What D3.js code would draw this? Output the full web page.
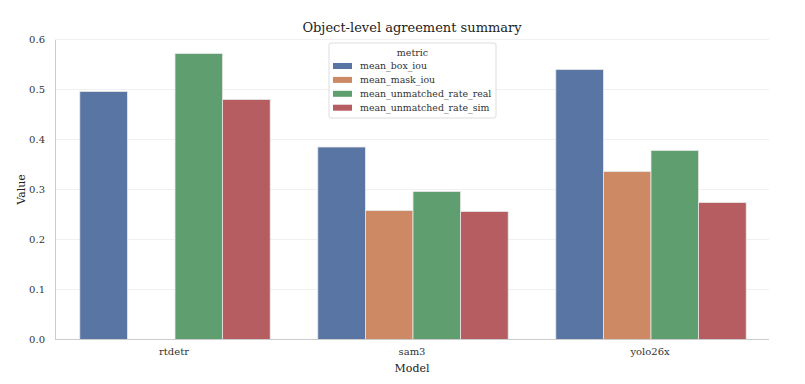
<!DOCTYPE html>
<html>
<head>
<meta charset="utf-8">
<script src="https://cdn.jsdelivr.net/npm/d3@7"></script>
<style>
  body { margin: 0; background: #fff; }
  text { font-family: "DejaVu Serif", serif; fill: #333; }
</style>
</head>
<body>
<div id="chart"></div>
<script>
// data
const models = ["rtdetr", "sam3", "yolo26x"];
const metrics = ["mean_box_iou", "mean_mask_iou", "mean_unmatched_rate_real", "mean_unmatched_rate_sim"];
const boxIou = [0.496, 0.385, 0.540];
const maskIou = [null, 0.258, 0.336];
const unmatchedReal = [0.572, 0.296, 0.378];
const unmatchedSim = [0.480, 0.256, 0.274];
const yTicks = [0, 0.1, 0.2, 0.3, 0.4, 0.5, 0.6];
const colors = ["#5975a4", "#cc8963", "#5f9e6e", "#b55d60"];

const series = [boxIou, maskIou, unmatchedReal, unmatchedSim];
let rows = [];
models.forEach((m, i) => {
    metrics.forEach((k, j) => {
        if (series[j][i] != null) rows.push({ model: m, metric: k, value: series[j][i] });
    });
});

const W = 805, H = 384;
const margin = { top: 39.5, right: 36, bottom: 44.5, left: 55 };
const width = W - margin.left - margin.right;
const height = H - margin.top - margin.bottom;

let svg = d3.select("#chart").append("svg")
    .attr("width", W).attr("height", H);

let g = svg.append("g")
    .attr("transform", "translate(" + margin.left + "," + margin.top + ")");

let x0 = d3.scaleBand().domain(models).range([0, width]).paddingInner(0.2).paddingOuter(0.1);
let x1 = d3.scaleBand().domain(metrics).range([0, x0.bandwidth()]);
let y = d3.scaleLinear().domain([0, 0.6]).range([height, 0]);
let color = d3.scaleOrdinal().domain(metrics).range(colors);

// grid
g.append("g").selectAll("line").data(yTicks).enter().append("line")
    .attr("x1", 0).attr("x2", width)
    .attr("y1", d => y(d)).attr("y2", d => y(d))
    .attr("stroke", "#f0f0f0").attr("stroke-width", 1);

// bars
g.append("g").selectAll("rect").data(rows).enter().append("rect")
    .attr("x", d => x0(d.model) + x1(d.metric) + 1)
    .attr("y", d => y(d.value))
    .attr("width", x1.bandwidth())
    .attr("height", d => y(0) - y(d.value))
    .attr("fill", d => color(d.metric))
    .attr("stroke", "#e8e8e8").attr("stroke-width", 0.8);

// axes
let yAxis = g.append("g")
    .call(d3.axisLeft(y).tickValues(yTicks).tickFormat(d3.format(".1f")).tickSize(0).tickPadding(10));
yAxis.select(".domain").attr("stroke", "#cccccc");
yAxis.selectAll("text").style("font-size", "10px").style("fill", "#333");

let xAxis = g.append("g")
    .attr("transform", "translate(0," + height + ")")
    .call(d3.axisBottom(x0).tickSize(0).tickPadding(8));
xAxis.select(".domain").attr("stroke", "#cccccc").attr("d", "M0,0H" + width);
xAxis.selectAll("text").style("font-size", "10px").style("fill", "#333");

// labels
svg.append("text")
    .attr("x", margin.left + width / 2).attr("y", 32)
    .attr("text-anchor", "middle")
    .style("font-size", "13px").style("fill", "#222")
    .text("Object-level agreement summary");

svg.append("text")
    .attr("x", margin.left + width / 2).attr("y", 372)
    .attr("text-anchor", "middle")
    .style("font-size", "11px").style("fill", "#222")
    .text("Model");

svg.append("text")
    .attr("transform", "translate(25," + (margin.top + height / 2) + ") rotate(-90)")
    .attr("text-anchor", "middle")
    .style("font-size", "11px").style("fill", "#222")
    .text("Value");

// legend
let legend = svg.append("g").attr("transform", "translate(329,43)");
legend.append("rect")
    .attr("width", 167).attr("height", 75).attr("rx", 2)
    .attr("fill", "#fff").attr("fill-opacity", 0.85)
    .attr("stroke", "#dddddd");
legend.append("text")
    .attr("x", 83.5).attr("y", 13)
    .attr("text-anchor", "middle")
    .style("font-size", "9.5px")
    .text("metric");
let items = legend.selectAll(".item").data(metrics).enter().append("g")
    .attr("transform", (d, i) => "translate(4," + (23 + i * 13.9) + ")");
items.append("rect")
    .attr("width", 19).attr("height", 6).attr("y", -3)
    .attr("fill", d => color(d));
items.append("text")
    .attr("x", 27).attr("y", 3.3)
    .style("font-size", "9.4px")
    .text(d => d);
</script>
</body>
</html>
